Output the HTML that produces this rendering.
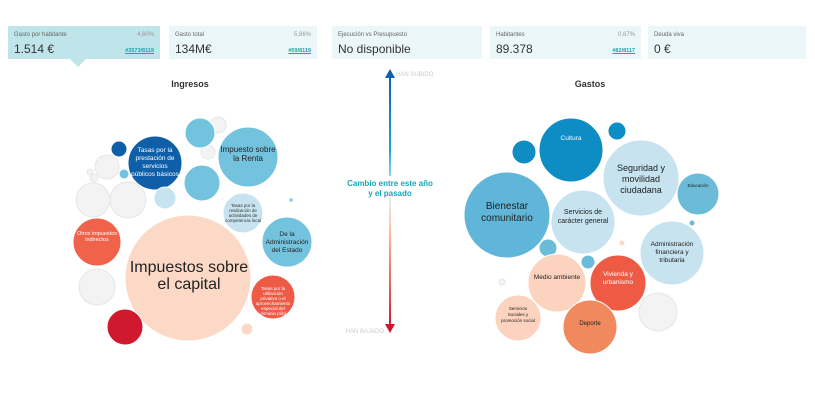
<!DOCTYPE html>
<html><head><meta charset="utf-8"><style>
body{margin:0;background:#fff;width:815px;height:400px;overflow:hidden;font-family:"Liberation Sans",sans-serif}
.b{position:absolute;top:26px;height:33px;background:#ebf6f8}
.b .l{position:absolute;left:6px;top:6px;font-size:6px;color:#666}
.b .p{position:absolute;right:6px;top:6px;font-size:6px;color:#999}
.b .v{position:absolute;left:6px;top:16px;font-size:12px;color:#333}
.b .r{position:absolute;right:6px;top:22px;font-size:5.5px;color:#1aa3b0;text-decoration:underline;font-weight:bold}
</style></head><body>
<div class="b" style="left:8px;width:152px;background:#bfe5ea"><span class="l">Gasto por habitante</span><span class="p">4,60%</span><span class="v">1.514 €</span><span class="r">#3573/8119</span></div>
<div style="position:absolute;left:70px;top:59px;width:0;height:0;border-left:8px solid transparent;border-right:8px solid transparent;border-top:8px solid #bfe5ea"></div>
<div class="b" style="left:169px;width:148px"><span class="l">Gasto total</span><span class="p">5,86%</span><span class="v">134M€</span><span class="r">#59/8119</span></div>
<div class="b" style="left:332px;width:150px"><span class="l">Ejecución vs Presupuesto</span><span class="v">No disponible</span></div>
<div class="b" style="left:490px;width:151px"><span class="l">Habitantes</span><span class="p">0,67%</span><span class="v">89.378</span><span class="r">#82/8117</span></div>
<div class="b" style="left:648px;width:158px"><span class="l">Deuda viva</span><span class="v">0 €</span></div>
<svg width="815" height="400" style="position:absolute;left:0;top:0" font-family="Liberation Sans, sans-serif">
<defs><linearGradient id="g" x1="0" y1="0" x2="0" y2="1"><stop offset="0" stop-color="#0d5fb0"/><stop offset="0.3" stop-color="#19a7d0"/><stop offset="0.47" stop-color="#e8f4f8"/><stop offset="0.6" stop-color="#fbc6a8"/><stop offset="1" stop-color="#d2152a"/></linearGradient></defs>
<rect x="389" y="74" width="2" height="254" fill="url(#g)"/>
<polygon points="385,78 390,69 395,78" fill="#0d5fb0"/>
<polygon points="385,324 390,333 395,324" fill="#d2152a"/>
<text x="396" y="76" font-size="6" fill="#ccc">HAN SUBIDO</text>
<text x="384" y="333" font-size="6" fill="#ccc" text-anchor="end">HAN BAJADO</text>
<rect x="348" y="176" width="84" height="22" fill="#fff"/>
<text x="390" y="186" font-size="8" font-weight="bold" fill="#15a8b8" text-anchor="middle">Cambio entre este año</text>
<text x="390" y="196" font-size="8" font-weight="bold" fill="#15a8b8" text-anchor="middle">y el pasado</text>
<text x="190" y="87" font-size="9" font-weight="bold" fill="#333" text-anchor="middle">Ingresos</text>
<text x="590" y="87" font-size="9" font-weight="bold" fill="#333" text-anchor="middle">Gastos</text>
<g stroke="#fff" stroke-width="1">
<circle cx="218" cy="125" r="8" fill="#f3f3f3" stroke="#e6e6e6"/>
<circle cx="208" cy="152" r="7" fill="#f3f3f3" stroke="#e6e6e6"/>
<circle cx="107" cy="167" r="12" fill="#f3f3f3" stroke="#e6e6e6"/>
<circle cx="90" cy="172" r="3" fill="#f3f3f3" stroke="#e6e6e6"/>
<circle cx="94" cy="178" r="4" fill="#f3f3f3" stroke="#e6e6e6"/>
<circle cx="93" cy="200" r="17" fill="#f3f3f3" stroke="#e6e6e6"/>
<circle cx="128" cy="200" r="18" fill="#f3f3f3" stroke="#e6e6e6"/>
<circle cx="97" cy="287" r="18" fill="#f3f3f3" stroke="#e6e6e6"/>
<circle cx="200" cy="133" r="15" fill="#74c3de"/>
<circle cx="248" cy="157" r="30" fill="#74c3de"/>
<circle cx="119" cy="149" r="8" fill="#0f5fa8"/>
<circle cx="155" cy="163" r="27" fill="#0f5fa8"/>
<circle cx="202" cy="183" r="18" fill="#74c3de"/>
<circle cx="124" cy="174" r="5" fill="#74c3de"/>
<circle cx="165" cy="198" r="11" fill="#c6e3ef"/>
<circle cx="243" cy="213" r="20" fill="#c6e3ef"/>
<circle cx="287" cy="242" r="25" fill="#74c3de"/>
<circle cx="97" cy="242" r="24" fill="#f0624a"/>
<circle cx="188" cy="278" r="63" fill="#fcd9c7"/>
<circle cx="273" cy="297" r="22" fill="#ef5a45"/>
<circle cx="125" cy="327" r="18" fill="#d0182e"/>
<circle cx="247" cy="329" r="6" fill="#fcd9c7"/>
<circle cx="291" cy="200" r="2" fill="#a8d2e2" stroke="none"/>
<circle cx="524" cy="152" r="12" fill="#0e8cc4"/>
<circle cx="571" cy="150" r="32" fill="#0e8cc4"/>
<circle cx="617" cy="131" r="9" fill="#0e8cc4"/>
<circle cx="641" cy="178" r="38" fill="#c6e3ef"/>
<circle cx="698" cy="194" r="21" fill="#6bbbd9"/>
<circle cx="692" cy="223" r="3" fill="#6bbbd9"/>
<circle cx="507" cy="215" r="43" fill="#5fb6d8"/>
<circle cx="583" cy="222" r="32" fill="#c6e3ef"/>
<circle cx="672" cy="253" r="32" fill="#c6e3ef"/>
<circle cx="548" cy="248" r="9" fill="#6bbbd9"/>
<circle cx="622" cy="243" r="3" fill="#fcd9c7"/>
<circle cx="588" cy="262" r="7" fill="#6bbbd9"/>
<circle cx="557" cy="283" r="29" fill="#fcd3be"/>
<circle cx="618" cy="283" r="28" fill="#ef5a45"/>
<circle cx="502" cy="282" r="3" fill="#f3f3f3" stroke="#e6e6e6"/>
<circle cx="658" cy="312" r="19" fill="#f3f3f3" stroke="#e6e6e6"/>
<circle cx="518" cy="318" r="23" fill="#fcd3be"/>
<circle cx="590" cy="327" r="27" fill="#f08a5e"/>
</g>
<g text-anchor="middle" font-size="6.5" fill="#fff">
<text x="155" y="152">Tasas por la</text><text x="155" y="160">prestación de</text><text x="155" y="168">servicios</text><text x="155" y="176">públicos básicos</text>
<text x="248" y="152" font-size="8" fill="#222">Impuesto sobre</text><text x="248" y="161" font-size="8" fill="#222">la Renta</text>
<g font-size="4.5" fill="#333"><text x="243" y="207">Tasas por la</text><text x="243" y="212">realización de</text><text x="243" y="217">actividades de</text><text x="243" y="222">competencia local</text></g>
<g font-size="6.5" fill="#222"><text x="287" y="236">De la</text><text x="287" y="244">Administración</text><text x="287" y="252">del Estado</text></g>
<text x="97" y="235" font-size="5.5">Otros impuestos</text><text x="97" y="241" font-size="5.5">indirectos</text>
<text x="189" y="272" font-size="16" fill="#222">Impuestos sobre</text><text x="189" y="289" font-size="16" fill="#222">el capital</text>
<g font-size="4.5"><text x="273" y="290">Tasas por la</text><text x="273" y="295">utilización</text><text x="273" y="300">privativa o el</text><text x="273" y="305">aprovechamiento</text><text x="273" y="310">especial del</text><text x="273" y="315">dominio públ</text></g>
<text x="571" y="140" font-size="6.5">Cultura</text>
<g font-size="9" fill="#222"><text x="641" y="171">Seguridad y</text><text x="641" y="182">movilidad</text><text x="641" y="193">ciudadana</text></g>
<text x="698" y="187" font-size="4.5" fill="#222">Educación</text>
<text x="507" y="209" font-size="10" fill="#222">Bienestar</text><text x="507" y="221" font-size="10" fill="#222">comunitario</text>
<g font-size="7" fill="#222"><text x="583" y="214">Servicios de</text><text x="583" y="223">carácter general</text></g>
<g font-size="6.5" fill="#222"><text x="672" y="246">Administración</text><text x="672" y="254">financiera y</text><text x="672" y="262">tributaria</text></g>
<text x="557" y="279" font-size="6.5" fill="#222">Medio ambiente</text>
<text x="618" y="276" font-size="6.5">Vivienda y</text><text x="618" y="284" font-size="6.5">urbanismo</text>
<g font-size="4.5" fill="#222"><text x="518" y="310">Servicios</text><text x="518" y="316">Sociales y</text><text x="518" y="322">promoción social</text></g>
<text x="590" y="325" font-size="6" fill="#222">Deporte</text>
</g>
</svg>
</body></html>
